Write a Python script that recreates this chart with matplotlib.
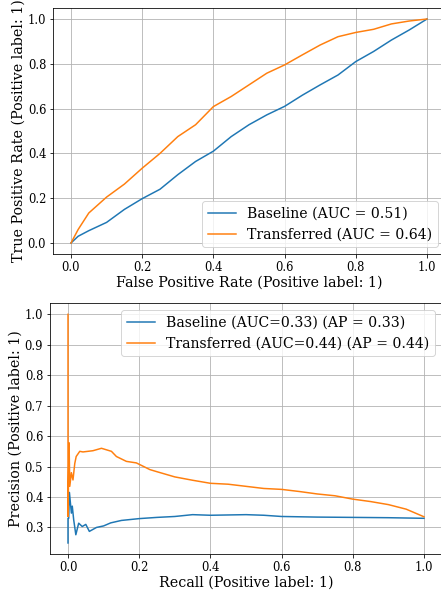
import matplotlib

matplotlib.use("Agg")
import matplotlib.pyplot as plt

plt.rcParams["font.family"] = "DejaVu Serif"
plt.rcParams["font.size"] = 14.2
plt.rcParams["xtick.labelsize"] = 11.5
plt.rcParams["ytick.labelsize"] = 11.5
plt.rcParams["legend.fontsize"] = 14

# ROC curves (FPR, TPR)
roc_fpr = [0.0, 0.02, 0.05, 0.1, 0.15, 0.2, 0.25, 0.3, 0.35, 0.4, 0.45, 0.5,
           0.55, 0.6, 0.65, 0.7, 0.75, 0.8, 0.85, 0.9, 0.95, 1.0]
roc_tpr_baseline = [0.0, 0.03, 0.055, 0.092, 0.15, 0.198, 0.24, 0.305, 0.364,
                    0.41, 0.475, 0.528, 0.572, 0.61, 0.66, 0.706, 0.75, 0.81,
                    0.855, 0.906, 0.951, 1.0]
roc_tpr_transferred = [0.0, 0.06, 0.134, 0.205, 0.263, 0.334, 0.40, 0.475,
                       0.528, 0.609, 0.654, 0.706, 0.758, 0.795, 0.84, 0.884,
                       0.921, 0.94, 0.954, 0.978, 0.991, 1.0]

# Precision-recall curves
pr_recall_baseline = [0.0, 0.0, 0.002, 0.004, 0.0095, 0.012, 0.016, 0.022,
                      0.03, 0.04, 0.05, 0.06, 0.08, 0.1, 0.12, 0.15, 0.2,
                      0.25, 0.3, 0.35, 0.4, 0.45, 0.5, 0.55, 0.6, 0.7, 0.8,
                      0.9, 1.0]
pr_prec_baseline = [0.249, 0.33, 0.33, 0.415, 0.347, 0.37, 0.325, 0.276,
                    0.314, 0.303, 0.31, 0.287, 0.30, 0.305, 0.315, 0.323,
                    0.329, 0.333, 0.336, 0.342, 0.340, 0.341, 0.342, 0.340,
                    0.336, 0.334, 0.333, 0.332, 0.330]
pr_recall_transferred = [0.0, 0.0, 0.003, 0.005, 0.0095, 0.014, 0.019,
                         0.023, 0.033, 0.042, 0.07, 0.094, 0.122, 0.136,
                         0.164, 0.192, 0.23, 0.25, 0.3, 0.35, 0.4, 0.45, 0.5,
                         0.55, 0.6, 0.65, 0.7, 0.75, 0.8, 0.85, 0.9, 0.95,
                         1.0]
pr_prec_transferred = [1.0, 0.336, 0.578, 0.435, 0.48, 0.456, 0.51, 0.533,
                       0.55, 0.548, 0.552, 0.56, 0.55, 0.533, 0.517, 0.512,
                       0.49, 0.483, 0.466, 0.455, 0.445, 0.442, 0.435, 0.428,
                       0.425, 0.418, 0.41, 0.404, 0.393, 0.385, 0.375, 0.36,
                       0.335]

W, H = 441, 592
fig = plt.figure(figsize=(W / 72, H / 72), dpi=72)


def box(left, top, right, bottom):
    return [left / W, 1 - bottom / H, (right - left) / W, (bottom - top) / H]


ax1 = fig.add_axes(box(53.2, 7.8, 444.8, 254.2))
ax1.plot(roc_fpr, roc_tpr_baseline, label="Baseline (AUC = 0.51)")
ax1.plot(roc_fpr, roc_tpr_transferred, label="Transferred (AUC = 0.64)")
ax1.set_xlabel("False Positive Rate (Positive label: 1)", labelpad=1)
ax1.set_ylabel("True Positive Rate (Positive label: 1)", labelpad=2)
ax1.grid(True)
ax1.legend(loc="lower right")

ax2 = fig.add_axes(box(50.2, 302.9, 441.8, 554.4))
ax2.plot(pr_recall_baseline, pr_prec_baseline,
         label="Baseline (AUC=0.33) (AP = 0.33)")
ax2.plot(pr_recall_transferred, pr_prec_transferred,
         label="Transferred (AUC=0.44) (AP = 0.44)")
ax2.set_xlabel("Recall (Positive label: 1)", labelpad=1)
ax2.set_ylabel("Precision (Positive label: 1)", labelpad=2)
ax2.grid(True)
ax2.legend(loc="upper right")

fig.savefig("out.png", dpi=72)
